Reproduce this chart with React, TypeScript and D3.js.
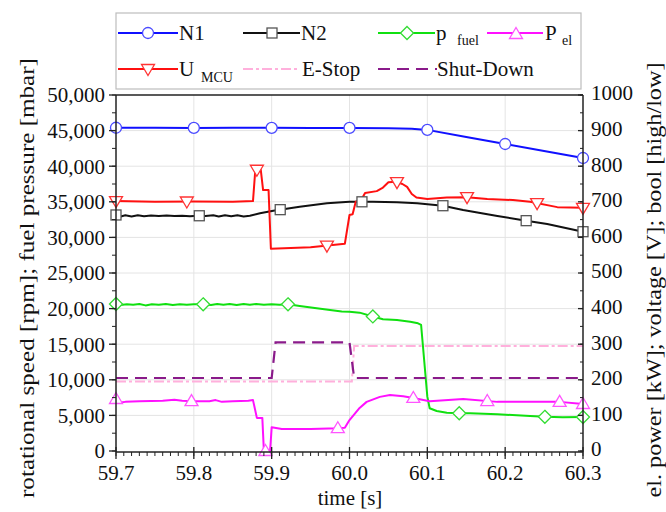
import React from 'react';
import * as d3 from 'd3';

type P = [number, number];

const timeTicks = [59.7, 59.8, 59.9, 60.0, 60.1, 60.2, 60.3];
const leftTicks = [0, 5000, 10000, 15000, 20000, 25000, 30000, 35000, 40000, 45000, 50000];
const rightTicks = [0, 100, 200, 300, 400, 500, 600, 700, 800, 900, 1000];

// N1 [rpm], left axis
const n1Data: P[] = [[59.70, 45400], [59.75, 45400], [59.80, 45380], [59.85, 45400], [59.90, 45390], [59.95, 45380], [60.00, 45380], [60.05, 45320], [60.08, 45250], [60.10, 45100], [60.15, 44100], [60.20, 43120], [60.25, 42150], [60.30, 41150]];
const n1Markers = [59.7, 59.8, 59.9, 60.0, 60.1, 60.2, 60.3];

// N2 [rpm], left axis
const n2Data: P[] = [[59.700, 33150], [59.705, 32900], [59.712, 33100], [59.720, 32950], [59.728, 33100], [59.736, 32980], [59.745, 33080], [59.755, 33000], [59.765, 33080], [59.775, 33000], [59.785, 33050], [59.795, 32980], [59.805, 33050], [59.815, 33000], [59.825, 33100], [59.832, 32950], [59.840, 33120], [59.848, 32980], [59.856, 33100], [59.864, 32950], [59.872, 33050], [59.885, 33400], [59.902, 33750], [59.936, 34300], [59.971, 34800], [60.000, 35000], [60.030, 35000], [60.061, 34930], [60.087, 34790], [60.120, 34450], [60.146, 33850], [60.190, 33000], [60.227, 32350], [60.254, 31880], [60.300, 30800]];
const n2Markers = [59.7, 59.807, 59.911, 60.016, 60.12, 60.227, 60.3];

// p fuel [mbar], left axis
const pFuelData: P[] = [[59.700, 20650], [59.706, 20500], [59.714, 20600], [59.722, 20550], [59.730, 20650], [59.738, 20450], [59.746, 20600], [59.755, 20550], [59.764, 20650], [59.773, 20500], [59.782, 20600], [59.791, 20550], [59.800, 20600], [59.812, 20600], [59.822, 20500], [59.830, 20650], [59.838, 20550], [59.846, 20650], [59.855, 20500], [59.864, 20650], [59.872, 20550], [59.880, 20650], [59.890, 20550], [59.900, 20600], [59.910, 20550], [59.921, 20600], [59.936, 20370], [59.953, 20130], [59.975, 19800], [59.990, 19600], [60.000, 19550], [60.013, 19430], [60.030, 18900], [60.043, 18500], [60.061, 18400], [60.078, 18160], [60.088, 17930], [60.092, 17700], [60.100, 7630], [60.103, 6000], [60.112, 5620], [60.125, 5380], [60.141, 5300], [60.155, 5300], [60.190, 5150], [60.232, 4920], [60.251, 4800], [60.274, 4730], [60.300, 4780]];
const pFuelMarkers = [59.7, 59.812, 59.921, 60.03, 60.141, 60.251, 60.3];

// P el [kW], right axis
const pElData: P[] = [[59.700, 146], [59.705, 136], [59.712, 138], [59.730, 140], [59.760, 141], [59.775, 144], [59.785, 141], [59.800, 140], [59.820, 140], [59.828, 143], [59.836, 138], [59.850, 140], [59.870, 141], [59.876, 143], [59.881, 93], [59.888, 93], [59.890, 0], [59.898, 0], [59.900, 67], [59.913, 62], [59.950, 62], [59.985, 64], [59.994, 65], [60.000, 87], [60.013, 121], [60.022, 138], [60.039, 152], [60.052, 157], [60.069, 154], [60.082, 149], [60.103, 140], [60.146, 146], [60.190, 138], [60.270, 138], [60.300, 132]];
const pElMarkers = [59.7, 59.797, 59.892, 59.985, 60.082, 60.177, 60.27, 60.3];

// U MCU [V], right axis
const uMcuData: P[] = [[59.700, 702], [59.750, 700], [59.800, 701], [59.850, 700], [59.876, 702], [59.879, 790], [59.886, 790], [59.889, 733], [59.896, 733], [59.899, 568], [59.950, 572], [59.994, 582], [60.000, 663], [60.004, 665], [60.008, 700], [60.015, 705], [60.020, 725], [60.035, 730], [60.043, 740], [60.050, 755], [60.060, 756], [60.068, 750], [60.074, 742], [60.080, 722], [60.086, 712], [60.100, 708], [60.125, 712], [60.151, 713], [60.177, 708], [60.210, 705], [60.232, 700], [60.267, 685], [60.300, 683]];
const uMcuMarkers = [59.7, 59.791, 59.881, 59.971, 60.061, 60.151, 60.241, 60.3];

// E-Stop and Shut-Down [bool], right axis
const eStopData: P[] = [[59.7, 195], [60.003, 195], [60.006, 295], [60.3, 295]];
const shutDownData: P[] = [[59.7, 205], [59.9, 205], [59.905, 305], [60.0, 305], [60.006, 205], [60.3, 205]];

const FONT = "'Liberation Serif', 'Times New Roman', serif";

function interp(data: P[], t: number): number {
  for (let i = 0; i < data.length - 1; i++) {
    const [t0, v0] = data[i];
    const [t1, v1] = data[i + 1];
    if (t >= t0 && t <= t1) {
      return t1 === t0 ? v0 : v0 + ((t - t0) / (t1 - t0)) * (v1 - v0);
    }
  }
  return data[data.length - 1][1];
}

type Shape = 'circle' | 'square' | 'diamond' | 'up' | 'down';

function Marker({ shape, cx, cy, stroke }: { shape: Shape; cx: number; cy: number; stroke: string }) {
  const common = { fill: 'white', stroke, strokeWidth: 1.3 };
  if (shape === 'circle') return <circle cx={cx} cy={cy} r={5.5} {...common} />;
  if (shape === 'square') return <rect x={cx - 5} y={cy - 5} width={10} height={10} {...common} />;
  if (shape === 'diamond')
    return <path d={`M${cx},${cy - 6.5}L${cx + 6.5},${cy}L${cx},${cy + 6.5}L${cx - 6.5},${cy}Z`} {...common} />;
  if (shape === 'up')
    return <path d={`M${cx},${cy - 6.5}L${cx + 6.5},${cy + 4.5}L${cx - 6.5},${cy + 4.5}Z`} {...common} />;
  return <path d={`M${cx},${cy + 6.5}L${cx + 6.5},${cy - 4.5}L${cx - 6.5},${cy - 4.5}Z`} {...common} />;
}

export default function App() {
  const W = 666, H = 512;
  const x = d3.scaleLinear().domain([59.7, 60.3]).range([116, 583]);
  const yL = d3.scaleLinear().domain([0, 50000]).range([451, 95]);
  const yR = d3.scaleLinear().domain([0, 1000]).range([451, 95]);

  const lineL = d3.line<P>().x(d => x(d[0])).y(d => yL(d[1]));
  const lineR = d3.line<P>().x(d => x(d[0])).y(d => yR(d[1]));

  const series = [
    { data: n1Data, markers: n1Markers, axis: 'L', color: '#1010ff', mk: '#4a4aff', shape: 'circle' as Shape },
    { data: n2Data, markers: n2Markers, axis: 'L', color: '#111111', mk: '#555555', shape: 'square' as Shape },
    { data: pFuelData, markers: pFuelMarkers, axis: 'L', color: '#10e010', mk: '#33dd33', shape: 'diamond' as Shape },
    { data: pElData, markers: pElMarkers, axis: 'R', color: '#ff10ff', mk: '#ff55ff', shape: 'up' as Shape },
    { data: uMcuData, markers: uMcuMarkers, axis: 'R', color: '#ff1010', mk: '#ff3333', shape: 'down' as Shape },
  ];

  const minorX = d3.range(0, 61).map(i => 59.7 + i * 0.01);
  const minorL = d3.range(0, 21).map(i => i * 2500);
  const minorR = d3.range(0, 21).map(i => i * 50);

  const fmt = d3.format(',');

  return (
    <svg width={W} height={H} style={{ position: 'absolute', left: 0, top: 0, display: 'block', background: 'white' }} fontFamily={FONT}>
      {/* grid */}
      {timeTicks.slice(1, -1).map(t => (
        <line key={'gx' + t} x1={x(t)} x2={x(t)} y1={95} y2={451} stroke="#e4e4e4" strokeWidth={1} />
      ))}
      {leftTicks.slice(1, -1).map(v => (
        <line key={'gy' + v} x1={116} x2={583} y1={yL(v)} y2={yL(v)} stroke="#e4e4e4" strokeWidth={1} />
      ))}

      {/* data lines and markers */}
      {series.map((s, i) => (
        <g key={'s' + i}>
          <path d={(s.axis === 'L' ? lineL : lineR)(s.data) || ''} fill="none" stroke={s.color} strokeWidth={2} strokeLinejoin="round" />
        </g>
      ))}
      <path d={lineR(eStopData) || ''} fill="none" stroke="#ffb0dc" strokeWidth={2} strokeDasharray="10,3,3,3" />
      <path d={lineR(shutDownData) || ''} fill="none" stroke="#8a1a8a" strokeWidth={2.2} strokeDasharray="12,7" />
      {series.map((s, i) => (
        <g key={'m' + i}>
          {s.markers.map((t, j) => {
            const v = interp(s.data, t);
            return <Marker key={j} shape={s.shape} cx={x(t)} cy={s.axis === 'L' ? yL(v) : yR(v)} stroke={s.mk} />;
          })}
        </g>
      ))}

      {/* frame / axes */}
      <line x1={116} x2={583} y1={95} y2={95} stroke="#222" strokeWidth={1.5} />
      <line x1={116} x2={116} y1={95} y2={452} stroke="#222" strokeWidth={1.5} />
      <line x1={583} x2={583} y1={95} y2={452} stroke="#222" strokeWidth={1.5} />
      <line x1={116} x2={583} y1={452} y2={452} stroke="#222" strokeWidth={1.5} />

      {/* bottom ticks */}
      {minorX.map((t, i) => (
        <line key={'mx' + i} x1={x(t)} x2={x(t)} y1={452} y2={456} stroke="#222" strokeWidth={1} />
      ))}
      {timeTicks.map(t => (
        <g key={'tx' + t}>
          <line x1={x(t)} x2={x(t)} y1={447} y2={459} stroke="#222" strokeWidth={1.3} />
          <text x={x(t)} y={480} textAnchor="middle" fontSize={21} fill="#111">{t.toFixed(1)}</text>
        </g>
      ))}

      {/* left ticks */}
      {minorL.map((v, i) => (
        <line key={'ml' + i} x1={112} x2={116} y1={yL(v)} y2={yL(v)} stroke="#222" strokeWidth={1} />
      ))}
      {leftTicks.map(v => (
        <g key={'ty' + v}>
          <line x1={109} x2={116} y1={yL(v)} y2={yL(v)} stroke="#222" strokeWidth={1.3} />
          <text x={105} y={yL(v)} dy="0.35em" textAnchor="end" fontSize={21} fill="#111">{fmt(v)}</text>
        </g>
      ))}

      {/* right ticks */}
      {minorR.map((v, i) => (
        <line key={'mr' + i} x1={580} x2={583} y1={yR(v)} y2={yR(v)} stroke="#222" strokeWidth={1} />
      ))}
      {rightTicks.map(v => (
        <g key={'tr' + v}>
          <line x1={578} x2={583} y1={yR(v)} y2={yR(v)} stroke="#222" strokeWidth={1.3} />
          <text x={591} y={yR(v) - 2} dy="0.35em" textAnchor="start" fontSize={21} fill="#111">{v}</text>
        </g>
      ))}

      {/* axis titles */}
      <text x={350} y={505} textAnchor="middle" fontSize={21} fill="#111">time [s]</text>
      <text transform="translate(27,278) rotate(-90)" textAnchor="middle" dy="0.35em" fontSize={21} fill="#111" textLength={440} lengthAdjust="spacingAndGlyphs">rotational speed [rpm]; fuel pressure [mbar]</text>
      <text transform="translate(654,280) rotate(-90)" textAnchor="middle" dy="0.35em" fontSize={20} fill="#111" textLength={435} lengthAdjust="spacingAndGlyphs">el. power [kW]; voltage [V]; bool [high/low]</text>

      {/* legend */}
      <rect x={116} y={13} width={465} height={76} fill="white" stroke="#bdbdbd" strokeWidth={1.2} />
      <g fontSize={21} fill="#111">
        <line x1={118} x2={178} y1={33} y2={33} stroke="#1010ff" strokeWidth={2} />
        <Marker shape="circle" cx={148} cy={33} stroke="#4a4aff" />
        <text x={179} y={40}>N1</text>

        <line x1={243} x2={300} y1={33} y2={33} stroke="#111" strokeWidth={2} />
        <Marker shape="square" cx={272} cy={33} stroke="#555" />
        <text x={301} y={40}>N2</text>

        <line x1={378} x2={435} y1={33} y2={33} stroke="#10e010" strokeWidth={2} />
        <Marker shape="diamond" cx={407} cy={33} stroke="#33dd33" />
        <text x={436} y={40}>p</text>
        <text x={457} y={45} fontSize={14}>fuel</text>

        <line x1={487} x2={543} y1={33} y2={33} stroke="#ff10ff" strokeWidth={2} />
        <Marker shape="up" cx={516} cy={34} stroke="#ff55ff" />
        <text x={545} y={40}>P</text>
        <text x={562} y={45} fontSize={14}>el</text>

        <line x1={118} x2={178} y1={69} y2={69} stroke="#ff1010" strokeWidth={2} />
        <Marker shape="down" cx={148} cy={69} stroke="#ff3333" />
        <text x={179} y={76}>U</text>
        <text x={201} y={82} fontSize={14}>MCU</text>

        <line x1={243} x2={298} y1={69} y2={69} stroke="#ffb0dc" strokeWidth={2} strokeDasharray="10,3,3,3" />
        <text x={302} y={76}>E-Stop</text>

        <line x1={378} x2={437} y1={69} y2={69} stroke="#8a1a8a" strokeWidth={2.2} strokeDasharray="12,7" />
        <text x={437} y={76}>Shut-Down</text>
      </g>
    </svg>
  );
}
